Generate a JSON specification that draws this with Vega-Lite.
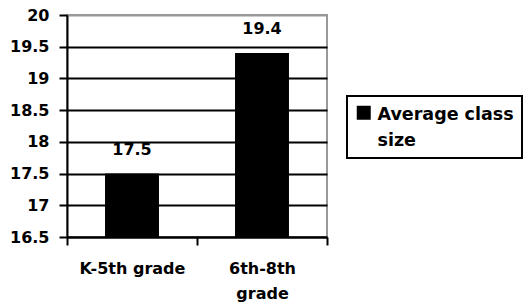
{
  "$schema": "https://vega.github.io/schema/vega-lite/v6.json",
  "autosize": {"type": "none"},
  "padding": {"left": 67, "top": 15, "right": 196, "bottom": 71},
  "width": 260,
  "height": 222,
  "background": "white",
  "config": {
    "view": {"stroke": "#999999", "strokeWidth": 2},
    "font": "DejaVu Sans"
  },
  "data": {
    "values": [
      {"grade": "K-5th grade", "size": 17.5, "series": "Average class size"},
      {"grade": "6th-8th grade", "size": 19.4, "series": "Average class size"}
    ]
  },
  "encoding": {
    "x": {
      "field": "grade",
      "type": "nominal",
      "sort": null,
      "scale": {"paddingInner": 0, "paddingOuter": 0},
      "axis": {
        "title": null,
        "labelAngle": 0,
        "domainColor": "black",
        "domainWidth": 2,
        "tickColor": "black",
        "tickWidth": 2,
        "tickSize": 8,
        "tickBand": "extent",
        "labelFont": "DejaVu Sans",
        "labelFontWeight": "bold",
        "labelFontSize": 16,
        "labelColor": "black",
        "labelPadding": 15,
        "labelLineHeight": 25,
        "labelLimit": 300,
        "labelExpr": "datum.label == '6th-8th grade' ? ['6th-8th', 'grade'] : datum.label"
      }
    }
  },
  "layer": [
    {
      "mark": {"type": "bar", "width": {"band": 0.415}},
      "encoding": {
        "y": {
          "field": "size",
          "type": "quantitative",
          "scale": {"domain": [16.5, 20], "nice": false, "zero": false},
          "axis": {
            "title": null,
            "values": [16.5, 17, 17.5, 18, 18.5, 19, 19.5, 20],
            "tickCount": 20,
            "format": "~g",
            "labelOverlap": false,
            "domainColor": "black",
            "domainWidth": 2,
            "tickColor": "black",
            "tickWidth": 2,
            "tickSize": 8,
            "labelFont": "DejaVu Sans",
            "labelFontWeight": "bold",
            "labelFontSize": 16,
            "labelColor": "black",
            "labelPadding": 10,
            "labelFlush": false,
            "grid": true,
            "gridWidth": 2,
            "gridColor": {"condition": {"test": "datum.value == 20", "value": "#999999"}, "value": "black"}
          }
        },
        "y2": {"datum": 16.5},
        "color": {
          "field": "series",
          "type": "nominal",
          "scale": {"range": ["black"]},
          "legend": {
            "title": null,
            "orient": "none",
            "legendX": 280,
            "legendY": 81,
            "symbolType": "square",
            "symbolSize": 196,
            "symbolStrokeWidth": 0,
            "labelFont": "DejaVu Sans",
            "labelFontWeight": "bold",
            "labelFontSize": 17.5,
            "labelColor": "black",
            "labelOffset": 5,
            "labelLimit": 400,
            "labelBaseline": "top",
            "labelExpr": "['Average class', 'size']",
            "strokeColor": "black",
            "padding": 8,
            "encode": {
              "legend": {"update": {"strokeWidth": {"value": 2}}},
              "labels": {"update": {"lineHeight": {"value": 26}, "dy": {"value": -7}}}
            }
          }
        }
      }
    },
    {
      "mark": {
        "type": "text",
        "baseline": "alphabetic",
        "dy": -19,
        "font": "DejaVu Sans",
        "fontWeight": "bold",
        "fontSize": 16,
        "color": "black"
      },
      "encoding": {
        "y": {"field": "size", "type": "quantitative"},
        "text": {"field": "size", "type": "quantitative", "format": ".1f"}
      }
    }
  ]
}
